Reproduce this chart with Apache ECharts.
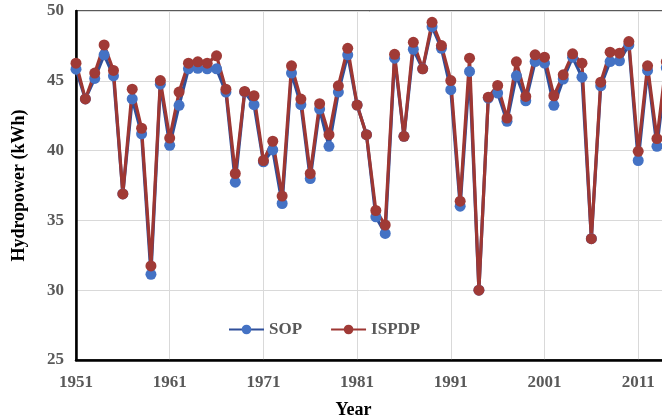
<!DOCTYPE html>
<html>
<head>
<meta charset="utf-8">
<script src="https://cdn.jsdelivr.net/npm/echarts@6/dist/echarts.min.js"></script>
<style>
  html, body { margin: 0; padding: 0; background: #fff; }
  #chart { width: 662px; height: 420px; }
</style>
</head>
<body>
<div id="chart"></div>
<script>
// years shown on the category axis (axis runs past the right edge, like the cropped original)
var years = [];
for (var y = 1951; y <= 2016; y++) years.push(String(y));

// hydropower (kWh), 1951 - 2014
var sop = [
  45.83, 43.7, 45.17, 46.86, 45.36, 36.9, 43.7, 41.2, 31.14, 44.76,
  40.38, 43.24, 45.86, 45.9, 45.86, 45.86, 44.19, 37.74, 44.2, 43.29,
  39.2, 40.05, 36.21, 45.55, 43.29, 38.0, 42.98, 40.31, 44.19, 46.86,
  43.26, 41.14, 35.26, 34.07, 46.62, 41.02, 47.26, 45.86, 48.88, 47.33,
  44.36, 36.02, 45.67, 30.0, 43.76, 44.12, 42.1, 45.36, 43.57, 46.38,
  46.26, 43.24, 45.12, 46.69, 45.26, 33.69, 44.64, 46.38, 46.43, 47.57,
  39.29, 45.74, 40.31, 45.93
];
var ispdp = [
  46.26, 43.7, 45.55, 47.57, 45.74, 36.9, 44.4, 41.6, 31.74, 45.02,
  40.9, 44.19, 46.26, 46.36, 46.26, 46.79, 44.4, 38.36, 44.24, 43.93,
  39.29, 40.67, 36.74, 46.07, 43.69, 38.36, 43.36, 41.14, 44.64, 47.33,
  43.26, 41.14, 35.71, 34.67, 46.9, 41.02, 47.76, 45.86, 49.19, 47.52,
  45.02, 36.38, 46.62, 30.0, 43.83, 44.67, 42.33, 46.36, 43.88, 46.86,
  46.69, 43.93, 45.43, 46.93, 46.26, 33.69, 44.9, 47.05, 46.98, 47.81,
  39.95, 46.07, 40.86, 46.36
];

var serif = '"Liberation Serif", "Times New Roman", serif';

var chart = echarts.init(document.getElementById('chart'));
var option = {
  animation: false,
  grid: {
    left: 76,
    top: 11,
    width: (years.length - 1) * 9.37,
    height: 349,
    outerBoundsMode: 'none',
    containLabel: false,
    show: true,
    borderColor: '#595959',
    borderWidth: 2
  },
  legend: {
    left: 223,
    top: 316,
    itemWidth: 35,
    itemHeight: 12,
    itemGap: 28,
    textStyle: {
      fontFamily: serif,
      fontWeight: 'bold',
      fontSize: 17,
      color: '#595959'
    },
    data: ['SOP', 'ISPDP']
  },
  xAxis: {
    type: 'category',
    data: years,
    boundaryGap: false,
    name: 'Year',
    nameLocation: 'middle',
    nameGap: 41,
    nameTextStyle: {
      fontFamily: serif,
      fontWeight: 'bold',
      fontSize: 18,
      color: '#000',
      padding: [0, 54, 0, 0]
    },
    axisLine: { lineStyle: { color: '#000', width: 2.5 } },
    axisTick: { show: false },
    axisLabel: {
      interval: 9,
      margin: 14,
      fontFamily: serif,
      fontWeight: 'bold',
      fontSize: 17,
      color: '#595959'
    },
    splitLine: {
      show: true,
      interval: 9,
      lineStyle: { color: '#d9d9d9', width: 1 }
    }
  },
  yAxis: {
    type: 'value',
    min: 25,
    max: 50,
    interval: 5,
    name: 'Hydropower (kWh)',
    nameLocation: 'middle',
    nameGap: 48,
    nameTextStyle: {
      fontFamily: serif,
      fontWeight: 'bold',
      fontSize: 18,
      color: '#000'
    },
    axisLine: { show: true, lineStyle: { color: '#000', width: 2.5 } },
    axisTick: { show: false },
    axisLabel: {
      margin: 12,
      fontFamily: serif,
      fontWeight: 'bold',
      fontSize: 17,
      color: '#595959'
    },
    splitLine: { lineStyle: { color: '#d9d9d9', width: 1 } }
  },
  series: [
    {
      name: 'SOP',
      type: 'line',
      data: sop,
      symbol: 'circle',
      symbolSize: 11,
      showAllSymbol: true,
      lineStyle: { color: '#2f4f9a', width: 3.2 },
      itemStyle: { color: '#4472c4' }
    },
    {
      name: 'ISPDP',
      type: 'line',
      data: ispdp,
      symbol: 'circle',
      symbolSize: 11,
      showAllSymbol: true,
      lineStyle: { color: '#9e3733', width: 3.2 },
      itemStyle: { color: '#a03a36' }
    }
  ]
};
chart.setOption(option);
</script>
</body>
</html>
